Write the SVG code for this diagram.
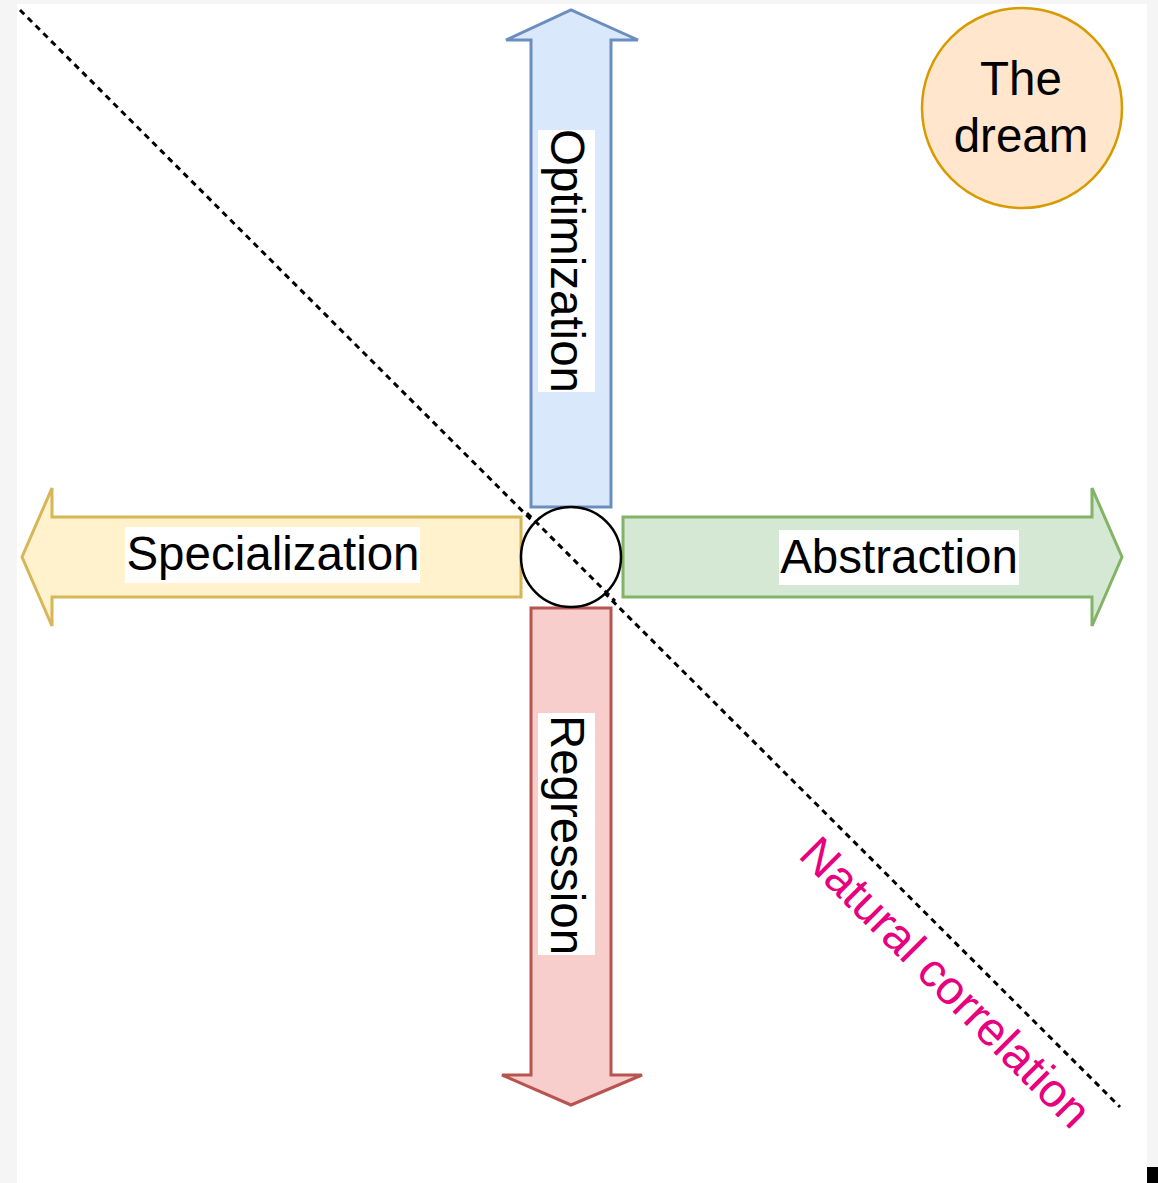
<svg xmlns="http://www.w3.org/2000/svg" width="1158" height="1183" viewBox="0 0 1158 1183">
  <style>
    .lbl { font-family: "Liberation Sans", Arial, sans-serif; font-size: 47.5px; fill: #000; }
    .arrow { stroke-width: 3; stroke-linejoin: miter; }
    .bg { fill: #ffffff; }
    .dash { stroke: #000; stroke-width: 3; stroke-dasharray: 6 5; }
  </style>
  <!-- page -->
  <rect x="0" y="0" width="1158" height="1183" fill="#f5f5f5"/>
  <rect x="17" y="4" width="1130" height="1179" fill="#ffffff"/>
  <rect x="1147" y="1167" width="11" height="16" fill="#000000"/>

  <!-- diagonal correlation line -->
  <g id="connectors">
    <line class="dash" x1="20" y1="10" x2="1120" y2="1107"/>
  </g>

  <g id="optimization">
    <path class="arrow" d="M531,507 L531,40 L506,40 L571,10 L638,40 L611,40 L611,507 Z" fill="#dae8fc" stroke="#6c8ebf"/>
    <rect class="bg" x="538" y="130" width="57" height="262"/>
    <text class="lbl" transform="translate(567,261) rotate(90)" text-anchor="middle" dominant-baseline="central">Optimization</text>
  </g>

  <g id="regression">
    <path class="arrow" d="M531,608 L611,608 L611,1075 L642,1075 L571,1105 L502,1075 L531,1075 Z" fill="#f8cecc" stroke="#b85450"/>
    <rect class="bg" x="538" y="713" width="57" height="242"/>
    <text class="lbl" transform="translate(567,835) rotate(90)" text-anchor="middle" dominant-baseline="central">Regression</text>
  </g>

  <g id="specialization">
    <path class="arrow" d="M521,517 L52,517 L52,488 L22,557 L52,626 L52,597 L521,597 Z" fill="#fff2cc" stroke="#d6b656"/>
    <rect class="bg" x="125" y="527" width="295" height="56"/>
    <text class="lbl" x="273" y="553" text-anchor="middle" dominant-baseline="central">Specialization</text>
  </g>

  <g id="abstraction">
    <path class="arrow" d="M623,517 L1092,517 L1092,488 L1122,557 L1092,626 L1092,597 L623,597 Z" fill="#d5e8d4" stroke="#82b366"/>
    <rect class="bg" x="779" y="530" width="240" height="55"/>
    <text class="lbl" x="899" y="556" text-anchor="middle" dominant-baseline="central">Abstraction</text>
  </g>

  <g id="origin">
    <circle cx="571" cy="557" r="50" fill="#ffffff" stroke="#000" stroke-width="2.5"/>
    <line class="dash" x1="527" y1="513" x2="615" y2="601"/>
  </g>

  <g id="the-dream">
    <circle cx="1022" cy="108" r="100" fill="#ffe6cc" stroke="#d79b00" stroke-width="2.5"/>
    <text class="lbl" x="1021" y="78" text-anchor="middle" dominant-baseline="central">The</text>
    <text class="lbl" x="1021" y="135" text-anchor="middle" dominant-baseline="central">dream</text>
  </g>

  <g id="natural-correlation">
    <text class="lbl" transform="translate(946,982) rotate(45)" text-anchor="middle" dominant-baseline="central" style="fill:#e8007f">Natural correlation</text>
  </g>
</svg>
